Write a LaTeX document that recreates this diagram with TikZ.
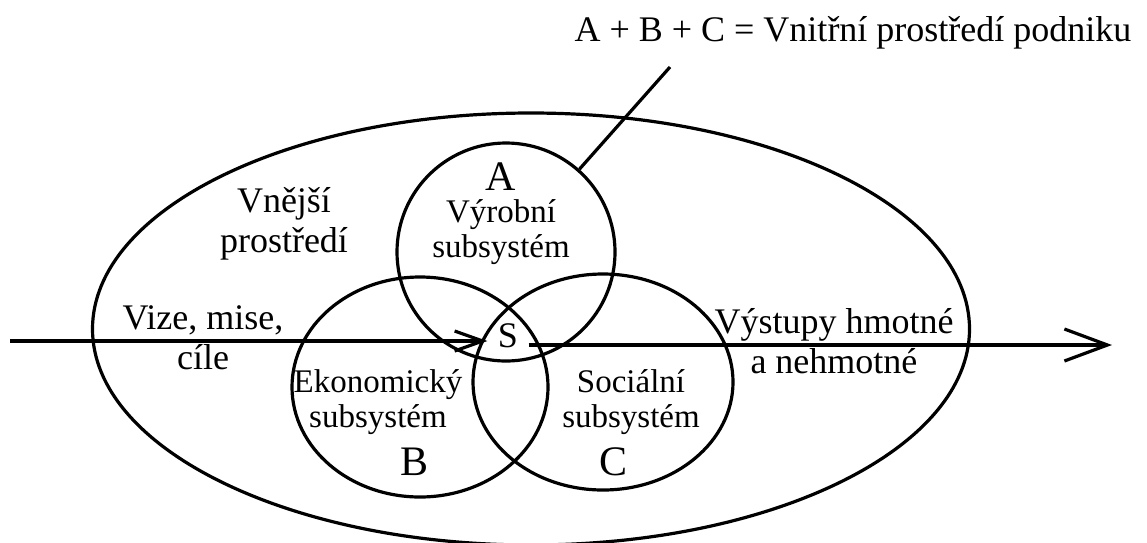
\documentclass[tikz,border=0pt]{standalone}
\usepackage{fontspec}
\setmainfont{Liberation Serif}
\usetikzlibrary{arrows.meta, positioning, shapes.geometric}

\begin{document}
\begin{tikzpicture}[
    x=1pt, y=-1pt,
    line width=3.2pt,
    okruh/.style={draw, ellipse, inner sep=0pt},
    popis/.style={align=center, font=\fontsize{36}{40}\selectfont, inner sep=0pt},
    podpopis/.style={align=center, font=\fontsize{33}{35.5}\selectfont, inner sep=0pt},
    pismeno/.style={anchor=base, font=\fontsize{42}{42}\selectfont, inner sep=0pt},
    malasipka/.style={-{Straight Barb[length=28pt, width=20pt]}},
    velkasipka/.style={-{Straight Barb[length=43pt, width=32pt]}}
]
    \useasboundingbox (0,0) rectangle (1147,542);

    % Vnější prostředí a subsystémy
    \node[okruh, minimum width=877pt, minimum height=432pt] (okoli) at (531,329) {};
    \node[okruh, circle, minimum size=218pt] (vyrobni) at (506,252) {};
    \node[okruh, minimum width=256pt, minimum height=220pt] (ekonomicky) at (420,387) {};
    \node[okruh, minimum width=260pt, minimum height=216pt] (socialni) at (603,382) {};

    % Popisky
    \node[popis, anchor=base] (vnitrni) at (853,41) {A + B + C = Vnitřní prostředí podniku};
    \node[popis] (vnejsi) at (284,224) {Vnější\\prostředí};
    \node[popis] (vize) at (203,338) {Vize, mise,\\cíle};
    \node[popis] (vystupy) at (834,341) {Výstupy hmotné\\a nehmotné};
    \node[podpopis] (txtA) at (501,232) {Výrobní\\subsystém};
    \node[podpopis] (txtB) at (378,402) {Ekonomický\\subsystém};
    \node[podpopis] (txtC) at (631,402) {Sociální\\subsystém};
    \node[pismeno] (pisA) at (501,190) {A};
    \node[pismeno] (pisB) at (414,475) {B};
    \node[pismeno] (pisC) at (613,475) {C};
    \node[pismeno, font=\fontsize{36}{36}\selectfont, inner xsep=9pt] (stred) at (508,347) {S};

    % Vstupy a výstupy
    \coordinate (vstup) at (10,341);
    \coordinate (vystup) at (1112,345);
    \draw[malasipka] (vstup) -- (vstup -| stred.west);
    \draw[velkasipka] (stred.east |- vystup) -- (vystup);

    % Odkaz na vnitřní prostředí
    \coordinate (odkaz) at (670,67);
    \draw (odkaz) -- (vyrobni);
\end{tikzpicture}
\end{document}
